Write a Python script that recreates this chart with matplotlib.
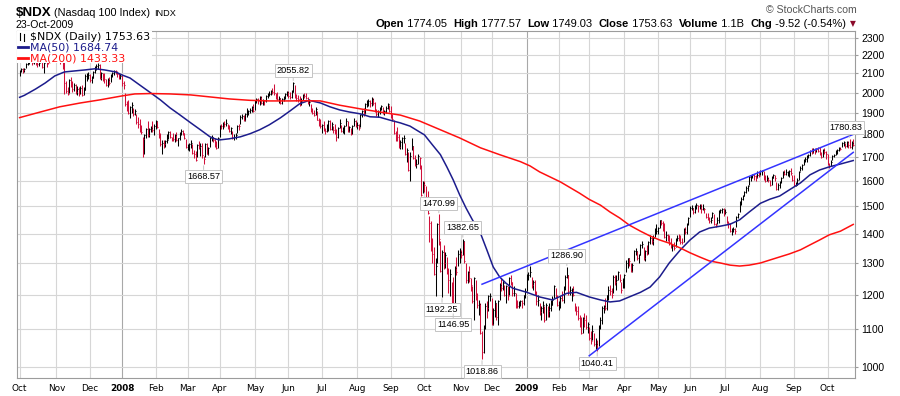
import matplotlib
matplotlib.use('Agg')
import matplotlib.pyplot as plt
import numpy as np
import pandas as pd
from matplotlib.patches import Rectangle

# NYSE holidays inside the window (weekdays with no bar)
holidays = ['2007-11-22', '2007-12-25', '2008-01-01', '2008-01-21', '2008-02-18',
            '2008-03-21', '2008-05-26', '2008-07-04', '2008-09-01', '2008-11-27',
            '2008-12-25', '2009-01-01', '2009-01-19', '2009-02-16', '2009-04-10',
            '2009-05-25', '2009-07-03', '2009-09-07']

# daily highs, one line per month (Oct 2007 .. Oct 2009)
highs = [
    2118, 2128, 2130, 2128, 2158, 2163, 2172, 2190, 2205, 2180, 2182, 2165, 2185, 2182, 2175, 2162, 2192, 2190, 2185, 2200, 2212, 2210, 2242,
    2230, 2195, 2190, 2200, 2190, 2168, 2060, 2030, 2070, 2080, 2060, 2050, 2045, 2035, 2030, 2035, 2040, 2030, 2095, 2100, 2110,
    2095, 2085, 2115, 2140, 2150, 2155, 2150, 2110, 2105, 2100, 2070, 2075, 2080, 2095, 2110, 2118, 2120, 2115, 2100, 2095,
    2090, 2060, 2000, 1960, 1965, 1935, 1955, 1925, 1920, 1895, 1880, 1870, 1845, 1790, 1800, 1830, 1860, 1830, 1840, 1860, 1850,
    1865, 1862, 1825, 1805, 1775, 1775, 1775, 1800, 1815, 1815, 1790, 1805, 1800, 1810, 1785, 1810, 1825, 1818, 1805, 1780,
    1755, 1760, 1775, 1755, 1730, 1725, 1755, 1770, 1760, 1760, 1705, 1760, 1762, 1745, 1790, 1795, 1788, 1785, 1768, 1790,
    1845, 1850, 1855, 1862, 1870, 1850, 1845, 1835, 1815, 1800, 1805, 1845, 1850, 1890, 1895, 1890, 1900, 1925, 1915, 1925, 1935, 1945,
    1965, 1975, 1972, 1985, 1985, 1970, 1965, 1990, 2000, 2010, 2015, 2025, 2045, 2000, 2005, 1985, 1975, 1975, 1985, 2000, 2010,
    2008, 2005, 2012, 2055.82, 2040, 1995, 1990, 1985, 1975, 1995, 2000, 2000, 1980, 1970, 1945, 1925, 1915, 1930, 1912, 1875, 1870,
    1850, 1860, 1830, 1850, 1865, 1868, 1855, 1840, 1850, 1825, 1835, 1870, 1845, 1835, 1845, 1875, 1860, 1840, 1830, 1845, 1875, 1865,
    1855, 1850, 1895, 1915, 1925, 1950, 1965, 1970, 1965, 1978, 1975, 1955, 1920, 1915, 1930, 1940, 1930, 1915, 1935, 1950, 1940,
    1935, 1895, 1865, 1815, 1835, 1800, 1775, 1790, 1795, 1760, 1740, 1720, 1720, 1785, 1750, 1710, 1690, 1715, 1700, 1665, 1600,
    1600, 1580, 1560, 1465, 1445, 1385, 1355, 1316, 1440, 1470.99, 1375, 1345, 1360, 1335, 1320, 1285, 1280, 1240, 1255, 1290, 1320, 1345, 1350,
    1345, 1382.65, 1375, 1300, 1275, 1290, 1250, 1225, 1255, 1245, 1205, 1185, 1175, 1095, 1110, 1175, 1180, 1200, 1205,
    1190, 1160, 1185, 1175, 1185, 1235, 1250, 1245, 1230, 1230, 1225, 1255, 1260, 1240, 1225, 1205, 1185, 1180, 1185, 1185, 1200, 1220,
    1265, 1270, 1290, 1255, 1245, 1245, 1210, 1200, 1175, 1165, 1180, 1165, 1175, 1165, 1175, 1185, 1195, 1230, 1220, 1200,
    1180, 1195, 1210, 1225, 1260, 1286.90, 1262, 1225, 1220, 1225, 1175, 1165, 1165, 1140, 1135, 1135, 1145, 1140, 1120,
    1105, 1095, 1110, 1090, 1075, 1070, 1110, 1135, 1165, 1170, 1190, 1200, 1225, 1230, 1220, 1260, 1260, 1260, 1275, 1265, 1240, 1250,
    1265, 1310, 1318, 1315, 1300, 1300, 1345, 1350, 1340, 1330, 1365, 1375, 1355, 1345, 1360, 1375, 1395, 1390, 1395, 1420, 1435,
    1425, 1450, 1450, 1445, 1440, 1410, 1400, 1395, 1385, 1365, 1370, 1385, 1395, 1400, 1395, 1385, 1420, 1425, 1440, 1460,
    1500, 1505, 1495, 1505, 1515, 1505, 1510, 1510, 1510, 1495, 1475, 1475, 1460, 1460, 1480, 1470, 1440, 1460, 1485, 1490, 1495, 1495,
    1490, 1465, 1445, 1438, 1420, 1425, 1420, 1465, 1475, 1520, 1535, 1545, 1560, 1580, 1585, 1620, 1625, 1630, 1628, 1625, 1640, 1640,
    1645, 1645, 1640, 1625, 1625, 1615, 1605, 1620, 1630, 1625, 1595, 1590, 1600, 1615, 1640, 1645, 1648, 1640, 1645, 1655, 1625,
    1625, 1595, 1610, 1640, 1662, 1670, 1690, 1700, 1710, 1715, 1730, 1738, 1740, 1738, 1740, 1744, 1745, 1720, 1735, 1740, 1728,
    1712, 1675, 1685, 1710, 1715, 1730, 1735, 1745, 1745, 1765, 1768, 1760, 1770, 1772, 1780.83, 1768, 1777.57,
]

lows = [
    2085, 2108, 2105, 2110, 2130, 2145, 2150, 2160, 2145, 2150, 2145, 2135, 2140, 2155, 2128, 2105, 2160, 2135, 2150, 2170, 2192, 2188, 2195,
    2170, 2160, 2150, 2165, 2125, 1995, 2000, 1988, 2000, 2030, 2005, 2010, 1995, 1990, 1985, 1995, 1985, 1988, 2015, 2060, 2070,
    2055, 2050, 2075, 2100, 2120, 2125, 2070, 2065, 2060, 2050, 2035, 2030, 2040, 2055, 2080, 2090, 2095, 2080, 2070, 2070,
    2035, 2020, 1935, 1910, 1895, 1875, 1900, 1885, 1890, 1850, 1830, 1810, 1800, 1700, 1715, 1785, 1790, 1790, 1810, 1810, 1795,
    1825, 1830, 1785, 1750, 1712, 1740, 1745, 1760, 1780, 1785, 1770, 1770, 1765, 1770, 1750, 1775, 1795, 1795, 1780, 1740,
    1730, 1725, 1740, 1715, 1695, 1682, 1700, 1735, 1705, 1695, 1668.57, 1700, 1712, 1710, 1745, 1770, 1765, 1745, 1735, 1740,
    1790, 1825, 1825, 1835, 1840, 1825, 1810, 1800, 1780, 1775, 1780, 1805, 1822, 1850, 1870, 1860, 1860, 1880, 1890, 1900, 1905, 1905,
    1915, 1950, 1945, 1940, 1945, 1940, 1940, 1955, 1975, 1985, 1990, 1995, 1990, 1970, 1965, 1950, 1945, 1945, 1960, 1970, 1985,
    1975, 1970, 1975, 2005, 1975, 1960, 1955, 1935, 1938, 1962, 1975, 1970, 1945, 1935, 1905, 1895, 1885, 1890, 1865, 1840, 1830,
    1805, 1815, 1800, 1810, 1815, 1822, 1818, 1805, 1800, 1772, 1785, 1830, 1810, 1805, 1800, 1840, 1810, 1810, 1795, 1800, 1840, 1835,
    1825, 1820, 1835, 1880, 1885, 1895, 1930, 1935, 1930, 1935, 1940, 1905, 1885, 1880, 1895, 1915, 1895, 1890, 1900, 1920, 1905,
    1875, 1860, 1800, 1770, 1770, 1740, 1735, 1735, 1760, 1710, 1680, 1640, 1600, 1730, 1690, 1660, 1655, 1670, 1650, 1540, 1550,
    1555, 1505, 1470, 1370, 1340, 1300, 1260, 1195, 1300, 1360, 1270, 1192.25, 1280, 1285, 1265, 1205, 1195, 1170, 1146.95, 1155, 1260, 1290, 1300,
    1315, 1325, 1300, 1235, 1235, 1240, 1210, 1175, 1125, 1185, 1160, 1140, 1085, 1018.86, 1035, 1100, 1130, 1150, 1180,
    1110, 1110, 1135, 1125, 1110, 1185, 1210, 1215, 1195, 1175, 1185, 1200, 1230, 1195, 1195, 1160, 1160, 1160, 1165, 1160, 1170, 1190,
    1210, 1245, 1255, 1220, 1215, 1200, 1170, 1165, 1140, 1125, 1145, 1120, 1125, 1135, 1135, 1150, 1170, 1190, 1190, 1165,
    1155, 1160, 1180, 1175, 1215, 1250, 1200, 1200, 1180, 1195, 1150, 1140, 1125, 1105, 1085, 1090, 1105, 1100, 1090,
    1070, 1060, 1070, 1055, 1042, 1040.41, 1055, 1100, 1115, 1145, 1155, 1155, 1185, 1200, 1190, 1205, 1230, 1215, 1245, 1240, 1205, 1220,
    1220, 1270, 1285, 1290, 1270, 1270, 1305, 1325, 1310, 1300, 1325, 1350, 1310, 1305, 1325, 1330, 1365, 1365, 1360, 1390, 1400,
    1400, 1420, 1430, 1410, 1385, 1375, 1375, 1360, 1350, 1340, 1345, 1355, 1375, 1375, 1365, 1365, 1370, 1400, 1400, 1430,
    1462, 1485, 1470, 1475, 1490, 1480, 1490, 1475, 1485, 1475, 1455, 1450, 1440, 1440, 1455, 1430, 1425, 1435, 1440, 1475, 1475, 1465,
    1470, 1438, 1420, 1405, 1395, 1405, 1400, 1425, 1455, 1480, 1505, 1525, 1540, 1550, 1560, 1585, 1600, 1610, 1605, 1600, 1610, 1615,
    1625, 1625, 1605, 1595, 1600, 1595, 1580, 1585, 1610, 1600, 1565, 1565, 1570, 1590, 1610, 1625, 1625, 1620, 1615, 1625, 1600,
    1580, 1578, 1582, 1605, 1640, 1645, 1665, 1680, 1680, 1695, 1705, 1715, 1718, 1715, 1722, 1720, 1710, 1695, 1700, 1715, 1690,
    1665, 1655, 1660, 1685, 1700, 1710, 1715, 1728, 1730, 1745, 1748, 1740, 1745, 1740, 1740, 1735, 1749.03,
]

closes = [
    2113, 2124, 2118, 2124, 2152, 2160, 2168, 2184, 2158, 2176, 2160, 2153, 2174, 2176, 2132, 2156, 2188, 2170, 2165, 2196, 2206, 2204, 2238,
    2180, 2185, 2170, 2195, 2130, 2048, 2010, 1995, 2065, 2040, 2020, 2040, 2005, 2020, 1992, 2025, 1990, 2015, 2085, 2090, 2092,
    2068, 2078, 2108, 2135, 2140, 2148, 2075, 2100, 2075, 2072, 2042, 2065, 2048, 2090, 2105, 2112, 2110, 2098, 2085, 2085,
    2050, 2040, 1945, 1935, 1900, 1930, 1940, 1895, 1910, 1855, 1850, 1815, 1812, 1780, 1795, 1825, 1795, 1825, 1830, 1820, 1840,
    1860, 1835, 1790, 1755, 1760, 1758, 1770, 1775, 1810, 1790, 1785, 1778, 1795, 1775, 1782, 1805, 1815, 1805, 1782, 1745,
    1745, 1755, 1760, 1718, 1712, 1688, 1752, 1742, 1750, 1710, 1690, 1755, 1715, 1740, 1785, 1790, 1775, 1750, 1740, 1782,
    1840, 1838, 1850, 1848, 1852, 1840, 1815, 1830, 1785, 1790, 1798, 1840, 1838, 1880, 1888, 1865, 1895, 1905, 1910, 1915, 1930, 1910,
    1960, 1968, 1958, 1980, 1950, 1962, 1958, 1985, 1995, 1995, 2010, 2005, 1998, 1995, 1970, 1975, 1948, 1970, 1978, 1992, 2005,
    1985, 1978, 2005, 2050, 1980, 1975, 1970, 1940, 1960, 1990, 1985, 1975, 1950, 1955, 1910, 1900, 1892, 1918, 1868, 1855, 1840,
    1845, 1818, 1815, 1830, 1860, 1825, 1848, 1820, 1805, 1790, 1830, 1852, 1815, 1825, 1840, 1862, 1815, 1832, 1800, 1840, 1860, 1840,
    1845, 1828, 1890, 1910, 1900, 1945, 1955, 1960, 1950, 1970, 1950, 1915, 1895, 1905, 1920, 1935, 1900, 1908, 1925, 1945, 1910,
    1885, 1870, 1805, 1800, 1790, 1745, 1765, 1785, 1785, 1715, 1730, 1645, 1705, 1750, 1695, 1665, 1672, 1705, 1695, 1545, 1590,
    1585, 1510, 1475, 1440, 1345, 1330, 1265, 1290, 1435, 1380, 1275, 1335, 1300, 1325, 1270, 1245, 1265, 1220, 1155, 1285, 1270, 1330, 1335,
    1325, 1375, 1305, 1245, 1270, 1250, 1230, 1180, 1250, 1195, 1168, 1172, 1090, 1037, 1105, 1165, 1160, 1195, 1195,
    1115, 1155, 1175, 1135, 1180, 1230, 1220, 1235, 1200, 1225, 1195, 1250, 1240, 1205, 1205, 1170, 1165, 1170, 1180, 1175, 1198, 1212,
    1260, 1262, 1270, 1230, 1240, 1205, 1180, 1185, 1148, 1160, 1170, 1125, 1170, 1150, 1160, 1170, 1185, 1225, 1195, 1170,
    1170, 1190, 1185, 1220, 1255, 1262, 1210, 1215, 1218, 1200, 1155, 1150, 1130, 1125, 1090, 1130, 1125, 1105, 1115,
    1075, 1068, 1095, 1060, 1060, 1045, 1105, 1125, 1160, 1165, 1160, 1198, 1215, 1210, 1200, 1255, 1240, 1245, 1270, 1245, 1215, 1235,
    1262, 1300, 1315, 1305, 1275, 1295, 1340, 1340, 1315, 1325, 1360, 1365, 1315, 1340, 1330, 1370, 1385, 1375, 1385, 1410, 1410,
    1420, 1448, 1440, 1432, 1390, 1395, 1385, 1370, 1358, 1358, 1350, 1382, 1385, 1380, 1372, 1370, 1418, 1405, 1435, 1455,
    1495, 1495, 1478, 1500, 1505, 1500, 1500, 1492, 1495, 1490, 1460, 1452, 1445, 1450, 1475, 1435, 1430, 1450, 1482, 1485, 1490, 1478,
    1478, 1440, 1438, 1408, 1412, 1415, 1410, 1462, 1470, 1515, 1530, 1540, 1555, 1570, 1578, 1615, 1620, 1625, 1620, 1615, 1625, 1620,
    1640, 1640, 1615, 1600, 1610, 1605, 1585, 1612, 1625, 1610, 1568, 1585, 1595, 1612, 1635, 1630, 1635, 1635, 1640, 1632, 1605,
    1585, 1585, 1605, 1635, 1655, 1665, 1685, 1690, 1705, 1710, 1725, 1722, 1732, 1730, 1733, 1725, 1715, 1700, 1730, 1722, 1712,
    1668, 1662, 1680, 1705, 1710, 1722, 1732, 1740, 1735, 1762, 1765, 1748, 1765, 1752, 1742, 1763.15, 1753.63,
]

# moving averages (bar number, value)
ma50_bar = [0, 3, 10, 16, 22, 28, 35, 41, 47, 53, 60, 64, 69, 75, 82, 88, 94, 100, 107, 113,
            119, 122, 125, 131, 138, 144, 150, 156, 163, 169, 175, 181, 188, 194, 200, 206, 213, 219, 225, 231,
            238, 244, 250, 253, 258, 263, 267, 271, 275, 279, 283, 288, 292, 296, 300, 304, 308, 317, 325, 333,
            342, 348, 356, 363, 369, 375, 381, 388, 394, 400, 406, 413, 419, 425, 431, 438, 444, 450, 456, 463,
            469, 475, 481, 488, 494, 500, 506, 513, 521]
ma50 = [1977, 1987, 2019, 2050, 2087, 2108, 2114, 2119, 2125, 2119, 2108, 2092, 2076, 2040, 1999, 1964, 1925, 1892, 1853, 1821,
        1789, 1780, 1775, 1780, 1789, 1803, 1821, 1844, 1877, 1910, 1945, 1962, 1949, 1930, 1915, 1905, 1896, 1882, 1880, 1867,
        1853, 1838, 1811, 1798, 1753, 1710, 1658, 1604, 1545, 1494, 1450, 1402, 1344, 1287, 1255, 1235, 1220, 1207, 1193, 1184,
        1204, 1207, 1193, 1184, 1178, 1181, 1193, 1207, 1223, 1255, 1300, 1344, 1378, 1406, 1420, 1427, 1434, 1450, 1479, 1512,
        1528, 1540, 1564, 1592, 1625, 1645, 1658, 1670, 1684.74]

ma200_bar = [0, 13, 25, 38, 50, 57, 64, 72, 82, 94, 107, 119, 131, 144, 156, 169, 178, 188, 200, 213,
             225, 238, 250, 263, 275, 288, 300, 313, 319, 325, 338, 350, 356, 363, 369, 375, 381, 388, 394, 400,
             406, 413, 419, 425, 431, 438, 444, 450, 456, 463, 469, 475, 481, 488, 494, 500, 506, 513, 521]
ma200 = [1878, 1905, 1930, 1949, 1964, 1974, 1984, 1994, 1996, 1994, 1989, 1979, 1969, 1962, 1959, 1959, 1960, 1959, 1938, 1920,
         1905, 1890, 1862, 1821, 1784, 1740, 1710, 1680, 1662, 1637, 1596, 1551, 1527, 1505, 1479, 1457, 1431, 1409, 1392, 1378,
         1367, 1350, 1334, 1320, 1307, 1300, 1293, 1290, 1293, 1300, 1310, 1320, 1330, 1344, 1361, 1378, 1396, 1409, 1433.33]

# hand drawn trend lines
trend_upper_bar = [289, 521]
trend_upper = [1232, 1800]
trend_lower_bar = [356, 521]
trend_lower = [1028, 1720]

# highs / lows that carry a value label
marked = [2055.82, 1668.57, 1470.99, 1382.65, 1192.25, 1146.95, 1018.86, 1286.90, 1040.41, 1780.83]

price_levels = list(range(1000, 2400, 100))

days = pd.bdate_range('2007-10-01', '2009-10-23')
days = days[~days.isin(pd.to_datetime(holidays))]
assert len(days) == len(highs) == len(lows) == len(closes)

highs = np.array(highs, float)
lows = np.array(lows, float)
closes = np.array(closes, float)
x = np.arange(len(days))

W, H = 900, 396
def fx(px):
    return px / W
def fy(py):
    return 1 - py / H

fig = plt.figure(figsize=(9, 3.96), dpi=100)
ax = fig.add_axes([fx(16.5), fy(377.7), (855 - 16.5) / W, (377.7 - 30.7) / H])
ax.set_yscale('log')
ax.set_xlim(-1.94, 522.1)
ax.set_ylim(972.5, 2340)

# grid
month_start = np.flatnonzero(np.r_[True, days.month[1:] != days.month[:-1]])
for i in month_start:
    col = '#a8a8a8' if days[i].month == 1 else '#d6d6d6'
    ax.axvline(i, color=col, lw=0.8, zorder=0)
for v in price_levels:
    ax.axhline(v, color='#d6d6d6', lw=0.8, zorder=0)

# price bars, red when the close is lower than the previous close
down = np.r_[False, closes[1:] < closes[:-1]]
cols = np.where(down, '#d0103a', '#000000')
ax.vlines(x, lows, highs, colors=cols, lw=0.75, zorder=3)
ax.hlines(closes, x, x + 0.6, colors=cols, lw=0.75, zorder=3)

ax.plot(ma50_bar, ma50, color='#1c1c8c', lw=1.1, zorder=4)
ax.plot(ma200_bar, ma200, color='#ff1010', lw=1.1, zorder=4)
ax.plot(trend_upper_bar, trend_upper, color='#3434ff', lw=1.1, zorder=4)
ax.plot(trend_lower_bar, trend_lower, color='#3434ff', lw=1.1, zorder=4)

# value labels
for v in marked:
    hi = np.flatnonzero(np.isclose(highs, v))
    if len(hi):
        i, dy = hi[0], 11
    else:
        i, dy = np.flatnonzero(np.isclose(lows, v))[0], -12
    dx = -4 if i == len(x) - 3 else 0
    ax.annotate(f'{v:.2f}', xy=(i, v), xytext=(dx * 0.72, dy * 0.72), textcoords='offset points',
                ha='center', va='center', fontsize=6.6, family='Liberation Sans',
                bbox=dict(boxstyle='square,pad=0.22', fc='white', ec='#c4c4c4', lw=0.7),
                arrowprops=dict(arrowstyle='-', color='#c4c4c4', lw=0.7, shrinkA=0, shrinkB=1),
                zorder=7, annotation_clip=False)

# axes styling
for s in ax.spines.values():
    s.set_color('#9c9c9c')
    s.set_linewidth(0.8)
ax.yaxis.tick_right()
ax.set_yticks(price_levels)
ax.set_yticklabels([str(v) for v in price_levels])
ax.yaxis.set_minor_locator(matplotlib.ticker.NullLocator())
ax.tick_params(axis='y', length=2.5, color='#9c9c9c', pad=2, labelsize=7.5)
for t in ax.get_yticklabels():
    t.set_family('Liberation Sans')

month_names = ['Jan', 'Feb', 'Mar', 'Apr', 'May', 'Jun', 'Jul', 'Aug', 'Sep', 'Oct', 'Nov', 'Dec']
xlabels = [str(days[i].year) if days[i].month == 1 else month_names[days[i].month - 1] for i in month_start]
ax.set_xticks(month_start)
ax.set_xticklabels(xlabels)
ax.tick_params(axis='x', length=0, pad=4.5, labelsize=6.4)
for t in ax.get_xticklabels():
    if t.get_text().isdigit():
        t.set_fontweight('bold')

# legend box in the upper left
ax.add_patch(Rectangle((fx(16.8), fy(62.5)), (152 - 16.8) / W, (62.5 - 31.2) / H,
                       transform=fig.transFigure, fc='white', ec='none', zorder=5, clip_on=False))
ax.plot([fx(20), fx(20)], [fy(33), fy(40)], color='black', lw=0.8, transform=fig.transFigure, zorder=6, clip_on=False)
ax.plot([fx(24), fx(24)], [fy(34), fy(41)], color='black', lw=0.8, transform=fig.transFigure, zorder=6, clip_on=False)
ax.plot([fx(18), fx(28)], [fy(47), fy(47)], color='#1c1c8c', lw=2, transform=fig.transFigure, zorder=6, clip_on=False)
ax.plot([fx(18), fx(28)], [fy(58), fy(58)], color='#ff1010', lw=2, transform=fig.transFigure, zorder=6, clip_on=False)
legend_rows = [('$NDX (Daily) 1753.63', 'black', 36.5), ('MA(50) 1684.74', '#1c1c8c', 47.5),
               ('MA(200) 1433.33', '#ff1010', 58.5)]
for txt, c, py in legend_rows:
    ax.text(fx(29.5), fy(py), txt, color=c, fontsize=7.9, va='center', ha='left',
            transform=fig.transFigure, zorder=6)

# header
fig.text(fx(16), fy(16), '$NDX', fontsize=9.6, fontweight='bold', family='Liberation Sans', va='baseline')
fig.text(fx(54), fy(16), '(Nasdaq 100 Index)', fontsize=7.8, family='Liberation Sans', va='baseline')
fig.text(fx(154), fy(16), 'INDX', fontsize=6.6, family='Liberation Sans', va='baseline')
fig.text(fx(16), fy(28), '23-Oct-2009', fontsize=7.6, family='Liberation Sans', va='baseline')
fig.text(fx(857), fy(13), '\u00a9 StockCharts.com', fontsize=7.6, family='Liberation Sans',
         color='#555555', ha='right', va='baseline')

pieces = [('Open', True), (' 1774.05  ', False), ('High', True), (' 1777.57  ', False),
          ('Low', True), (' 1749.03  ', False), ('Close', True), (' 1753.63  ', False),
          ('Volume', True), (' 1.1B  ', False), ('Chg', True), (' -9.52 (-0.54%)', False)]
renderer = fig.canvas.get_renderer()
texts = []
for s, b in pieces:
    t = fig.text(0, fy(27), s, fontsize=8, family='Liberation Sans',
                 fontweight='bold' if b else 'normal', va='baseline')
    texts.append(t)
widths = [t.get_window_extent(renderer).width for t in texts]
xcur = 846 - sum(widths)
for t, w in zip(texts, widths):
    t.set_x(fx(xcur))
    xcur += w
fig.text(fx(850), fy(26), '\u25bc', fontsize=5.5, color='#8b0a2a', va='baseline')

fig.savefig('out.png', dpi=100)
